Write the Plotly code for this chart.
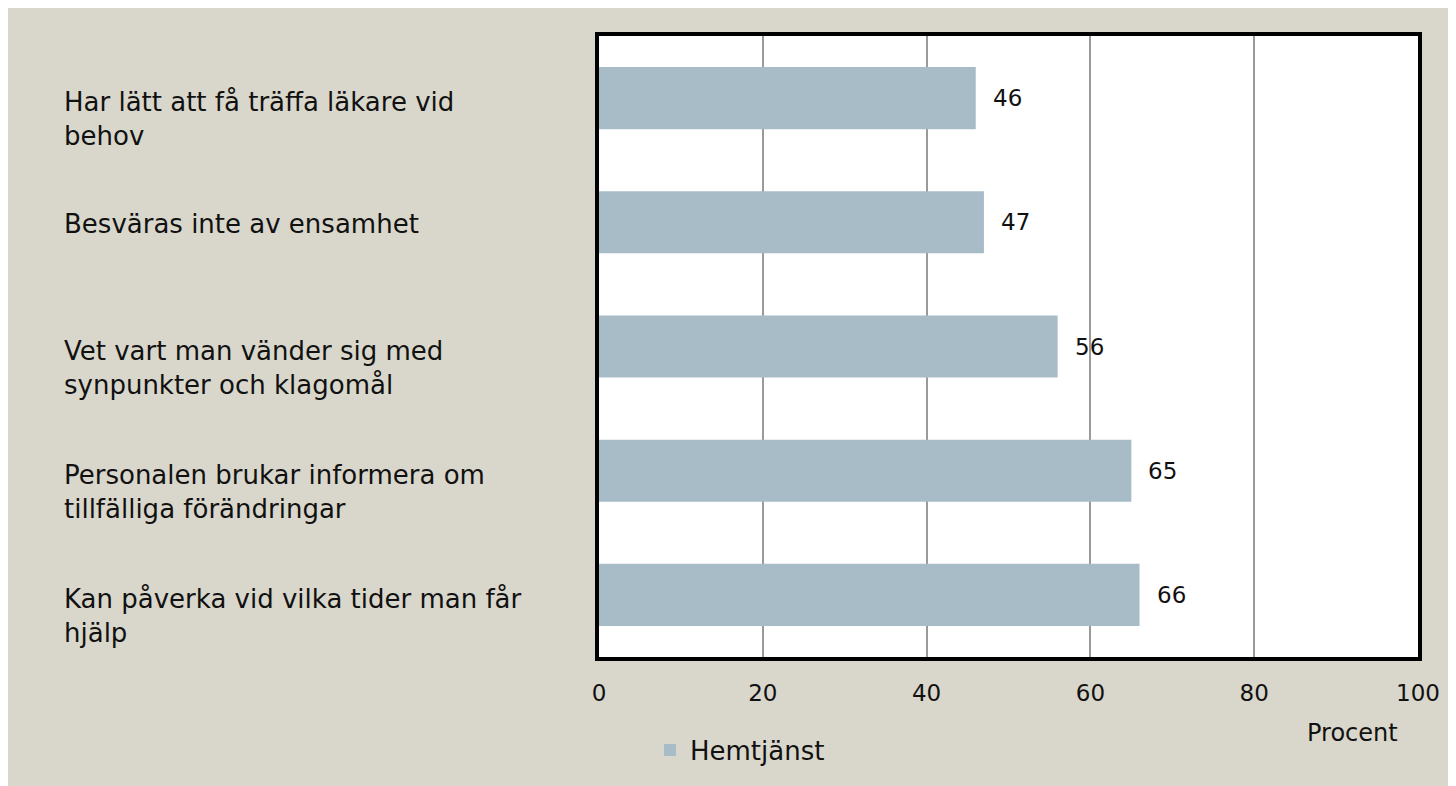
import plotly.graph_objects as go

categories = [
    "Har lätt att få träffa läkare vid<br>behov",
    "Besväras inte av ensamhet",
    "Vet vart man vänder sig med<br>synpunkter och klagomål",
    "Personalen brukar informera om<br>tillfälliga förändringar",
    "Kan påverka vid vilka tider man får<br>hjälp",
]
values = [46, 47, 56, 65, 66]
series_name = "Hemtjänst"
x_ticks = [0, 20, 40, 60, 80, 100]
x_title = "Procent"

# page offset of the figure inside the browser window
OX, OY = 8, 8
W, H = 1456, 786
L, R, T, B = 599 - OX, W - (1418 - OX), 36 - OY, H - (657 - OY)
pw, ph = W - L - R, H - T - B

BG = "#d9d7cb"
BAR = "#a7bcc7"
FONT = "DejaVu Sans"
FS_TXT = 26
FS_NUM = 23


def px_x(sx):
    return (sx - OX - L) / pw


def px_y(sy):
    return (T + ph - (sy - OY)) / ph


fig = go.Figure()
fig.add_trace(go.Bar(
    x=values, y=categories, orientation="h", name=series_name,
    marker=dict(color=BAR, line=dict(width=0)),
    showlegend=True,
))

annotations = []
for c in categories:
    multi = "<br>" in c
    annotations.append(dict(
        x=px_x(62), xref="paper", y=c, yref="y",
        text=c, showarrow=False, xanchor="left", align="left",
        yanchor="middle", yshift=-21 if multi else -2,
        font=dict(family=FONT, size=FS_TXT, color="#111111"),
    ))
for c, v in zip(categories, values):
    annotations.append(dict(
        x=v, y=c, xref="x", yref="y", text=str(v), showarrow=False,
        xanchor="left", yanchor="middle", xshift=15,
        font=dict(family=FONT, size=FS_NUM, color="#111111"),
    ))
annotations.append(dict(
    x=px_x(1400), xref="paper", y=px_y(733), yref="paper",
    text=x_title, showarrow=False, xanchor="right", yanchor="middle",
    font=dict(family=FONT, size=FS_NUM + 1, color="#111111"),
))

fig.update_layout(
    width=W, height=H,
    margin=dict(l=L, r=R, t=T, b=B, pad=0),
    paper_bgcolor=BG,
    plot_bgcolor="white",
    bargap=0.5,
    font=dict(family=FONT, size=FS_NUM, color="#111111"),
    annotations=annotations,
    legend=dict(
        orientation="h", xref="container", yref="container",
        x=(650 - OX) / W, xanchor="left", y=1 - (750 - OY) / H, yanchor="middle",
        bgcolor="rgba(0,0,0,0)", font=dict(family=FONT, size=FS_TXT),
        itemwidth=30,
    ),
    xaxis=dict(
        range=[0, 100], tickvals=x_ticks, showgrid=True,
        gridcolor="#9a9a9a", gridwidth=1.5,
        showline=True, linecolor="black", linewidth=4, mirror=True,
        ticks="outside", ticklen=12, tickcolor="rgba(0,0,0,0)",
        zeroline=False, tickfont=dict(family=FONT, size=FS_NUM),
    ),
    yaxis=dict(
        autorange="reversed", showticklabels=False, showgrid=False,
        showline=True, linecolor="black", linewidth=4, mirror=True,
        ticks="", zeroline=False,
    ),
)

fig.write_html("out.html")
